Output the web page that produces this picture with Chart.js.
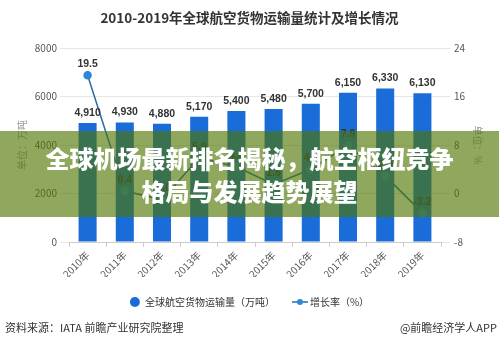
<!DOCTYPE html>
<html><head><meta charset="utf-8">
<script src="https://cdn.jsdelivr.net/npm/chart.js@4"></script>
<style>
html,body{margin:0;padding:0;background:#fff;}
#wrap{position:relative;width:499px;height:348px;overflow:hidden;font-family:"Noto Sans CJK SC","Liberation Sans",sans-serif;}
canvas{position:absolute;left:0;top:0;}
.foot{position:absolute;top:319px;font-size:11px;color:#333;line-height:16px;white-space:nowrap;}
#banner{position:absolute;left:0;top:131px;width:499px;height:86px;background:rgba(78,117,0,0.63);color:#fff;font-weight:900;font-size:24px;line-height:33px;text-align:center;padding-top:10px;box-sizing:border-box;white-space:nowrap;}
</style></head>
<body><div id="wrap"><canvas id="c" width="499" height="348"></canvas>
<div id="banner">全球机场最新排名揭秘，航空枢纽竞争<br>格局与发展趋势展望</div>
<div class="foot" style="left:5px">资料来源：IATA 前瞻产业研究院整理</div>
<div class="foot" style="right:2px">@前瞻经济学人APP</div>
</div>
<script>
const years = ['2010年','2011年','2012年','2013年','2014年','2015年','2016年','2017年','2018年','2019年'];
const cargo = [4910,4930,4880,5170,5400,5480,5700,6150,6330,6130];
const growth = [19.5,0.4,-1.0,5.9,4.4,1.5,4.0,7.9,2.9,-3.2];
const leftTicks = [0,2000,4000,6000,8000];
const rightTicks = [-8,0,8,16,24];
const seriesNames = ['全球航空货物运输量（万吨）','增长率（%）'];

const barColor = '#1a6cd8';
const lineColor = '#2a6aa6';
const pointColor = '#2b86d6';
const FONT = '"Noto Sans CJK SC","Liberation Sans",sans-serif';
Chart.defaults.font.family = FONT;

const lineIcon = document.createElement('canvas');
lineIcon.width = 16; lineIcon.height = 8;
(function(){const g=lineIcon.getContext('2d');g.strokeStyle=lineColor;g.lineWidth=1.5;g.beginPath();g.moveTo(0,4);g.lineTo(16,4);g.stroke();g.fillStyle=pointColor;g.beginPath();g.arc(8,4,3,0,Math.PI*2);g.fill();})();

const valueLabels = {
  id:'valueLabels',
  afterDatasetsDraw(chart){
    const ctx = chart.ctx;
    ctx.save();
    ctx.textAlign='center'; ctx.textBaseline='middle'; ctx.fillStyle='#333';
    ctx.font='bold 10.5px "Liberation Sans", Arial, sans-serif';
    chart.getDatasetMeta(0).data.forEach((el,i)=>{ ctx.fillText(cargo[i].toLocaleString('en-US'), el.x, el.y-10); });
    chart.getDatasetMeta(1).data.forEach((el,i)=>{ ctx.fillText(growth[i].toFixed(1), el.x, el.y-11); });
    ctx.restore();
  }
};

new Chart(document.getElementById('c'), {
  data: {
    labels: years,
    datasets: [
      {type:'bar', label:seriesNames[0], data:cargo, backgroundColor:barColor, yAxisID:'y', order:1,
       barPercentage:0.485, categoryPercentage:1.0},
      {type:'line', label:seriesNames[1], data:growth, yAxisID:'y1', order:0,
       borderColor:lineColor, borderWidth:1.5, pointRadius:3.5, pointBackgroundColor:pointColor,
       pointBorderColor:pointColor, tension:0}
    ]
  },
  options: {
    responsive:false, animation:false, devicePixelRatio:1, events:[],
    layout:{padding:{left:0,right:0,top:0,bottom:31}},
    plugins:{
      tooltip:{enabled:false},
      title:{display:true, text:'2010-2019年全球航空货物运输量统计及增长情况', color:'#333',
        font:{size:13.5, weight:'bold'}, padding:{top:9.5,bottom:22.3}},
      legend:{position:'bottom', labels:{usePointStyle:true, boxHeight:7, boxWidth:10, padding:20,
        font:{size:10}, color:'#333',
        sort:(a,b)=>a.datasetIndex-b.datasetIndex,
        generateLabels(chart){
          const items = Chart.defaults.plugins.legend.labels.generateLabels(chart);
          items.forEach(it=>{
            if(it.datasetIndex===1){ it.pointStyle=lineIcon; }
            else { it.pointStyle='circle'; it.fillStyle=barColor; it.strokeStyle=barColor; it.lineWidth=0; }
          });
          return items;
        }}}
    },
    scales:{
      x:{type:'category', offset:true,
        grid:{display:true, drawOnChartArea:false, drawTicks:true, tickLength:5, color:'#ccc'},
        border:{display:true, color:'#ccc'},
        ticks:{autoSkip:false, maxRotation:45, minRotation:45, font:{size:10}, color:'#555', padding:2},
        afterFit:s=>{s.height=35;}},
      y:{position:'left', min:0, max:8000,
        afterBuildTicks:s=>{s.ticks=leftTicks.map(v=>({value:v}));},
        ticks:{font:{size:10}, color:'#555', padding:3, callback:v=>String(v)},
        grid:{color:'#e6e6e6', tickLength:9, drawTicks:true},
        border:{display:false},
        title:{display:true, text:'单位：万吨', color:'#999', font:{size:10}, padding:{top:16,bottom:0}},
        afterFit:s=>{s.width=69;}},
      y1:{position:'right', min:-8, max:24,
        afterBuildTicks:s=>{s.ticks=rightTicks.map(v=>({value:v}));},
        ticks:{font:{size:10}, color:'#555', padding:4, callback:v=>String(v)},
        grid:{drawOnChartArea:false, color:'#e6e6e6', tickLength:9, drawTicks:true},
        border:{display:false},
        title:{display:true, text:'单位：%', color:'#999', font:{size:10}, padding:{top:15.5,bottom:0}},
        afterFit:s=>{s.width=58;}}
    }
  },
  plugins:[valueLabels]
});
</script>
</body></html>
